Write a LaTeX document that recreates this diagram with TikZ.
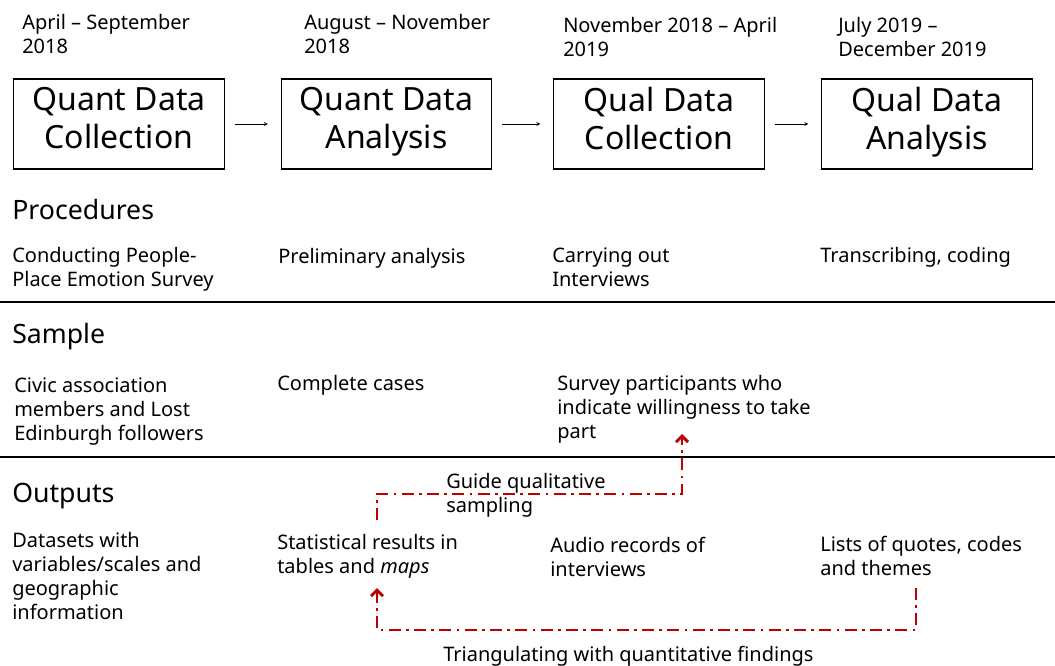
\documentclass[tikz,border=0pt]{standalone}
\usepackage{fontspec}
\setmainfont{Noto Sans}
\usepackage{xcolor,tikz}
\usetikzlibrary{arrows.meta,calc,positioning}
\tikzset{>=stealth}
\definecolor{linkred}{RGB}{192,0,0}

\begin{document}
\begin{tikzpicture}[x=0.75pt,y=-0.75pt,
  every node/.style={inner sep=0pt,align=left,anchor=base west},
  small/.style={font=\fontsize{15}{18}\selectfont},
  head/.style={font=\fontsize{20}{24}\selectfont},
  phase/.style={draw,line width=0.8pt,anchor=center,align=center,minimum width=158pt,minimum height=67.5pt,
    font=\fontsize{24}{28.5}\selectfont,execute at begin node=\strut,execute at end node=\strut},
  redlink/.style={draw=linkred,line width=2.2pt,dash pattern=on 9pt off 4pt on 2pt off 4pt,-{Straight Barb[length=4.5pt,width=9pt]}}]
\useasboundingbox (0,0) rectangle (1055,665);

\node[small] (d1) at (22,53) {April -- September\\2018};
\node[small] (d2) at (304,53) {August -- November\\2018};
\node[small] (d3) at (563,56) {November 2018 -- April\\2019};
\node[small] (d4) at (838,56) {July 2019 --\\December 2019};

\node[phase] (qnc) at (119,124) {Quant Data\\Collection};
\node[phase] (qna) at (386.5,124) {Quant Data\\Analysis};
\node[phase] (qlc) at (659,124) {Qual Data\\Collection};
\node[phase] (qla) at (927,124) {Qual Data\\Analysis};
\foreach \a/\b in {qnc/qna,qna/qlc,qlc/qla} {
\draw[->,thin,shorten <=7.5pt,shorten >=9.5pt] (\a) -- (\b);
};

\node[head] (proc) at (12,219) {Procedures};
\node[small] (p1) at (12,286) {Conducting People-\\Place Emotion Survey};
\node[small] (p2) at (278,263) {Preliminary analysis};
\node[small] (p3) at (552,286) {Carrying out\\Interviews};
\node[small] (p4) at (820,262) {Transcribing, coding};

\draw[line width=0.8pt] (0,302) -- (1055,302);

\node[head] (samp) at (12,343) {Sample};
\node[small] (s1) at (14,440) {Civic association\\members and Lost\\Edinburgh followers};
\node[small] (s2) at (277,390) {Complete cases};
\node[small] (s3) at (557,438) {Survey participants who\\indicate willingness to take\\part};

\draw[line width=0.8pt] (0,457) -- (1055,457);

\node[head] (outp) at (12,502) {Outputs};
\node[small] (o1) at (12,619) {Datasets with\\variables/scales and\\geographic\\information};
\node[small] (o2) at (277,573) {Statistical results in\\tables and \textit{maps}};
\node[small] (o3) at (550,576) {Audio records of\\interviews};
\node[small] (o4) at (820,575) {Lists of quotes, codes\\and themes};

\coordinate (g0) at (377,520);
\coordinate (g1) at (682,434);
\draw[redlink] (g0) -- (377,494) -| (g1);
\node[small] (guide) at (446,512) {Guide qualitative\\sampling};

\coordinate (t0) at (916,588);
\coordinate (t1) at (377,588);
\draw[redlink] (t0) -- (916,630) -| (t1);
\node[small] (tri) at (443,661) {Triangulating with quantitative findings};
\end{tikzpicture}
\end{document}
